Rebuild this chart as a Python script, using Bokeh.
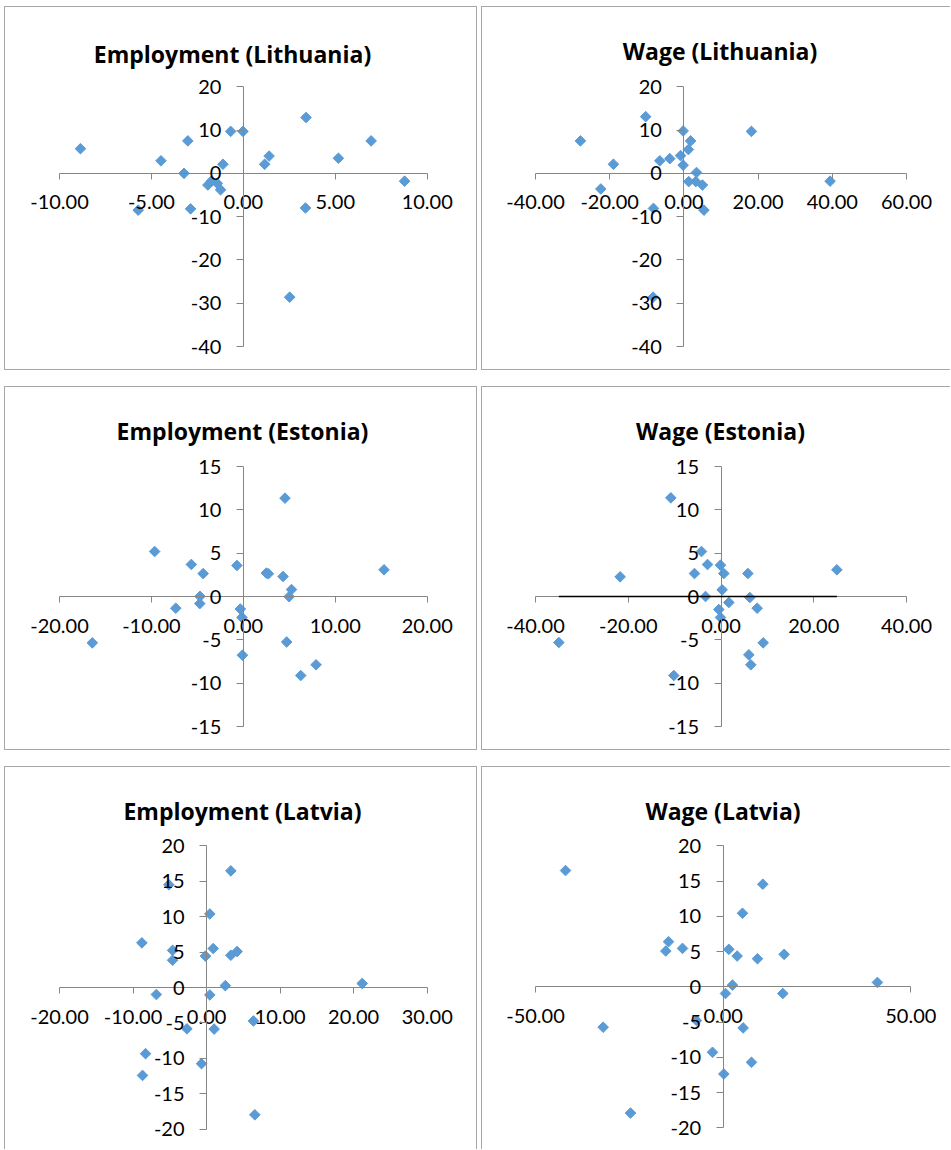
import numpy as np
from bokeh.plotting import figure
from bokeh.layouts import column, row
from bokeh.models import (Range1d, SingleIntervalTicker, NumeralTickFormatter,
                          Label, Spacer)
from bokeh.embed import file_html
from bokeh.resources import INLINE

# ---------------- data ----------------
emp_lt_x = [-8.86, -5.72, -4.48, -3.02, -3.23, -2.87, -1.93, -1.74, -1.42, -1.24, -1.11,
            -0.69, -0.02, 1.16, 1.40, 3.41, 5.17, 6.95, 8.77, 3.38, 2.52]
emp_lt_y = [5.7, -8.5, 2.9, 7.5, 0.0, -8.2, -2.7, -1.8, -2.3, -3.8, 2.1,
            9.7, 9.7, 2.1, 4.0, 12.9, 3.5, 7.5, -1.8, -8.0, -28.6]

wage_lt_x = [-27.9, -22.4, -19.0, -10.3, -6.5, -3.8, -0.9, -0.2, -0.2, 1.2, 1.8,
             3.4, 1.3, 3.2, 5.0, 5.4, -8.2, -8.3, 18.2, 39.4]
wage_lt_y = [7.5, -3.6, 2.1, 13.1, 2.9, 3.4, 4.1, 1.9, 9.8, 5.5, 7.5,
             0.2, -1.9, -1.9, -2.7, -8.5, -8.1, -28.6, 9.7, -1.8]

emp_ee_x = [-16.43, -9.65, -5.66, -4.37, -4.72, -4.74, -7.35, -0.70, -0.33, -0.15, -0.10,
            2.50, 2.72, 4.32, 4.53, 5.24, 4.98, 4.71, 6.24, 7.91, 15.30]
emp_ee_y = [-5.35, 5.19, 3.70, 2.64, 0.02, -0.82, -1.35, 3.58, -1.44, -2.42, -6.77,
            2.70, 2.62, 2.31, 11.35, 0.80, -0.02, -5.25, -9.12, -7.88, 3.08]

wage_ee_x = [-34.97, -21.75, -10.82, -10.17, -4.21, -2.91, -5.72, -3.34, -0.11, 0.61, 0.25,
             1.69, -0.47, -0.11, 5.79, 6.22, 7.80, 9.10, 6.00, 6.43, 24.98]
wage_ee_y = [-5.31, 2.27, 11.38, -9.12, 5.19, 3.69, 2.65, 0.0, 3.62, 2.65, 0.77,
             -0.69, -1.50, -2.42, 2.65, -0.12, -1.35, -5.35, -6.73, -7.88, 3.08]
wage_ee_ref_level = 0.0

emp_lv_x = [-5.13, -8.80, -4.62, -4.62, -6.83, 0.44, -0.15, 0.90, 3.30, 3.30, 4.15,
            2.55, 0.44, 21.16, -2.68, 1.03, 6.37, -8.30, -8.71, -0.69, 6.56]
emp_lv_y = [14.5, 6.3, 5.24, 3.85, -0.99, 10.38, 4.43, 5.5, 16.46, 4.55, 5.08,
            0.26, -1.05, 0.57, -5.83, -5.87, -4.72, -9.34, -12.41, -10.75, -17.97]

wage_lv_x = [-42.0, -31.97, -24.69, -14.56, -15.28, -10.83, -7.10, -2.84, 0.18, 0.62, 2.49,
             1.51, 3.73, 5.15, 5.33, 7.55, 9.15, 10.57, 16.25, 15.90, 41.10]
wage_lv_y = [16.49, -5.73, -17.91, 6.40, 5.07, 5.45, -4.79, -9.29, -12.37, -0.95, 0.24,
             5.31, 4.36, 10.43, -5.83, -10.71, 3.98, 14.55, 4.60, -0.95, 0.62]

titles = ["Employment (Lithuania)", "Wage (Lithuania)",
          "Employment (Estonia)", "Wage (Estonia)",
          "Employment (Latvia)", "Wage (Latvia)"]
x_ranges = [(-10, 10), (-40, 60), (-20, 20), (-40, 40), (-20, 30), (-50, 50)]
y_ranges = [(-40, 20), (-40, 20), (-15, 15), (-15, 15), (-20, 20), (-20, 20)]
x_steps = [5, 20, 10, 20, 10, 50]
y_steps = [10, 10, 5, 5, 5, 5]

# ---------------- style / layout ----------------
TICK_FONT = "Lato"
TITLE_FONT = "Open Sans"
MARK = "#5b9bd5"
AXIS = "#868686"
BORDER = "1px solid #a6a6a6"

# page geometry of each panel box: left, top, width, height
boxes = [(4, 6, 473, 364), (481, 6, 469, 364),
         (4, 386, 473, 364), (481, 386, 469, 364),
         (4, 766, 473, 383), (481, 766, 469, 383)]
# page pixel positions of the ends of the tick range (x_lo, x_hi), (y_hi, y_lo)
x_px = [(58.0, 425.7), (534.0, 905.0), (58.0, 425.7), (534.0, 905.0),
        (58.0, 425.7), (534.0, 909.3)]
y_px = [(85.3, 345.0), (85.3, 345.0), (465.0, 725.0), (465.0, 725.0),
        (844.3, 1127.7), (844.3, 1126.3)]
title_cx = [231, 718.5, 241, 719, 241, 721.5]
title_base = [46, 43, 43, 43, 43, 43]
borders = [["border-top", "border-left", "border-right", "border-bottom"],
           ["border-top", "border-left", "border-bottom"],
           ["border-top", "border-left", "border-right", "border-bottom"],
           ["border-top", "border-left", "border-bottom"],
           ["border-top", "border-left", "border-right"],
           ["border-top", "border-left"]]


def panel(i, xs, ys):
    L, T, W, H = boxes[i]
    x0, x1 = x_ranges[i]
    y0, y1 = y_ranges[i]
    sx = (x_px[i][1] - x_px[i][0]) / (x1 - x0)
    sy = (y_px[i][1] - y_px[i][0]) / (y1 - y0)
    xr = Range1d(x0 - (x_px[i][0] - L) / sx, x1 + (L + W - x_px[i][1]) / sx)
    yr = Range1d(y0 - (T + H - y_px[i][1]) / sy, y1 + (y_px[i][0] - T) / sy)

    p = figure(width=W, height=H, x_range=xr, y_range=yr,
               output_backend="svg", toolbar_location=None, min_border=0,
               background_fill_color="white", border_fill_color="white")
    p.outline_line_color = None
    p.grid.visible = False

    xa = p.xaxis[0]
    ya = p.yaxis[0]
    xa.fixed_location = 0
    ya.fixed_location = 0
    xa.bounds = (x0, x1)
    ya.bounds = (y0, y1)
    xa.ticker = SingleIntervalTicker(interval=x_steps[i], num_minor_ticks=0)
    ya.ticker = SingleIntervalTicker(interval=y_steps[i], num_minor_ticks=0)
    xa.formatter = NumeralTickFormatter(format="0.00")
    ya.formatter = NumeralTickFormatter(format="0")
    for ax, tick in ((xa, 6), (ya, 7)):
        ax.axis_line_color = AXIS
        ax.major_tick_line_color = AXIS
        ax.minor_tick_line_color = None
        ax.major_tick_in = 0
        ax.major_tick_out = tick
        ax.major_label_text_font = TICK_FONT
        ax.major_label_text_font_size = "20px"
        ax.major_label_text_color = "black"
    xa.major_label_standoff = 16
    ya.major_label_standoff = 15

    p.add_layout(Label(x=title_cx[i] - L, y=H - title_base[i],
                       x_units="screen", y_units="screen", text=titles[i],
                       text_align="center", text_baseline="alphabetic",
                       text_font=TITLE_FONT, text_font_style="bold",
                       text_font_size="23px", text_color="black"))

    p.scatter(xs, ys, marker="square", size=7.5, angle=np.pi / 4,
              fill_color=MARK, line_color=MARK)
    p.styles = {b: BORDER for b in borders[i]}
    return p


p1 = panel(0, emp_lt_x, emp_lt_y)
p2 = panel(1, wage_lt_x, wage_lt_y)
p3 = panel(2, emp_ee_x, emp_ee_y)
p4 = panel(3, wage_ee_x, wage_ee_y)
p4.line([min(wage_ee_x), max(wage_ee_x)], [wage_ee_ref_level, wage_ee_ref_level],
        line_color="black", line_width=1.3, level="overlay")
p5 = panel(4, emp_lv_x, emp_lv_y)
p6 = panel(5, wage_lv_x, wage_lv_y)

gap_x = boxes[1][0] - boxes[0][0] - boxes[0][2]
gap_y = boxes[2][1] - boxes[0][1] - boxes[0][3]
rows = [row(Spacer(width=boxes[0][0] - gap_x, height=1), a, b, spacing=gap_x)
        for a, b in ((p1, p2), (p3, p4), (p5, p6))]
layout = column(Spacer(height=boxes[0][1], width=1),
                column(*rows, spacing=gap_y), spacing=0)

open("out.html", "w").write(file_html(layout, INLINE))
